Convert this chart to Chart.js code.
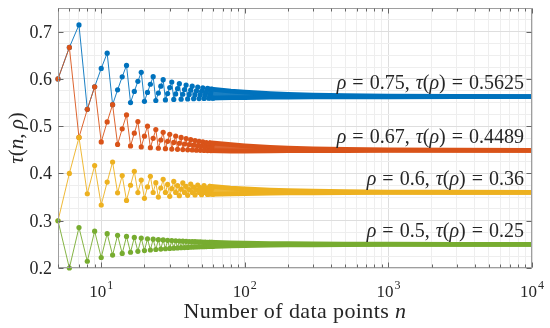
<!DOCTYPE html>
<html>
<head>
<meta charset="utf-8">
<script src="https://cdn.jsdelivr.net/npm/chart.js@4/dist/chart.umd.min.js"></script>
<style>
html, body { margin: 0; padding: 0; background: #fff; }
</style>
</head>
<body>
<canvas id="tauChart" width="550" height="328"></canvas>
<script>
// number of data points, one marker each
var nSmall = [5,6,7,8,9,10,11,12,13,14,15,16,17,18,19,20,21,22,23,24,25,26,
	27,28,29,30,31,32,33,34,35,36,37,38,39,40,41,42,43,44,45,46,47,48,
	49,50,51,52,53,54,55,56,57,58,59,60];

var tau075 = [0.6000,0.6667,0.7143,0.5357,0.5833,0.6222,0.6545,0.5455,0.5769,0.6044,0.6286,
	0.5500,0.5735,0.5948,0.6140,0.5526,0.5714,0.5887,0.6047,0.5543,0.5700,0.5846,0.5983,
	0.5556,0.5690,0.5816,0.5935,0.5565,0.5682,0.5793,0.5899,0.5571,0.5676,0.5775,0.5870,
	0.5577,0.5671,0.5761,0.5847,0.5581,0.5667,0.5749,0.5828,0.5585,
	0.5663,0.5739,0.5812,0.5588,0.5660,0.5730,0.5798,0.5591,0.5658,0.5723,0.5786,0.5593];
var tau067 = [0.6000,0.6667,0.4762,0.5357,0.5833,0.4667,0.5091,0.5455,0.4615,0.4945,0.5238,
	0.4583,0.4853,0.5098,0.4561,0.4789,0.5000,0.4545,0.4743,0.4928,0.4533,0.4708,0.4872,
	0.4524,0.4680,0.4828,0.4516,0.4657,0.4792,0.4510,0.4639,0.4762,0.4505,0.4623,0.4737,
	0.4500,0.4610,0.4715,0.4496,0.4598,0.4697,0.4493,0.4588,0.4681,
	0.4490,0.4580,0.4667,0.4487,0.4572,0.4654,0.4485,0.4565,0.4643,0.4483,0.4559,0.4633];
var tau060 = [0.3000,0.4000,0.4762,0.3571,0.4167,0.3333,0.3818,0.4242,0.3590,0.3956,0.3429,
	0.3750,0.4044,0.3595,0.3860,0.3474,0.3714,0.3939,0.3597,0.3804,0.3500,0.3692,0.3875,
	0.3598,0.3768,0.3517,0.3677,0.3831,0.3598,0.3743,0.3529,0.3667,0.3799,0.3599,0.3725,
	0.3538,0.3659,0.3775,0.3599,0.3710,0.3545,0.3652,0.3756,0.3599,
	0.3699,0.3551,0.3647,0.3741,0.3599,0.3690,0.3556,0.3643,0.3728,0.3600,0.3682,0.3559];
var tau050 = [0.3000,0.2000,0.2857,0.2143,0.2778,0.2222,0.2727,0.2273,0.2692,0.2308,0.2667,
	0.2333,0.2647,0.2353,0.2632,0.2368,0.2619,0.2381,0.2609,0.2391,0.2600,0.2400,0.2593,
	0.2407,0.2586,0.2414,0.2581,0.2419,0.2576,0.2424,0.2571,0.2429,0.2568,0.2432,0.2564,
	0.2436,0.2561,0.2439,0.2558,0.2442,0.2556,0.2444,0.2553,0.2447,
	0.2551,0.2449,0.2549,0.2451,0.2547,0.2453,0.2545,0.2455,0.2544,0.2456,0.2542,0.2458];

// further out the markers merge into a band: its upper and lower edge
var nTail = [56,80,100,150,200,300,500,1000,3000,10000];
var tail075Hi = [0.5790,0.5742,0.5719,0.5688,0.5672,0.5656,0.5644,0.5634,0.5628,0.5626];
var tail075Lo = [0.5592,0.5602,0.5606,0.5613,0.5616,0.5619,0.5621,0.5623,0.5624,0.5625];
var tail067Hi = [0.4650,0.4608,0.4584,0.4552,0.4537,0.4521,0.4508,0.4499,0.4492,0.4490];
var tail067Lo = [0.4484,0.4475,0.4474,0.4478,0.4482,0.4484,0.4486,0.4488,0.4489,0.4489];
var tail060Hi = [0.3732,0.3690,0.3672,0.3648,0.3636,0.3624,0.3614,0.3607,0.3602,0.3601];
var tail060Lo = [0.3557,0.3570,0.3576,0.3584,0.3588,0.3592,0.3595,0.3598,0.3599,0.3600];
var tail050Hi = [0.2545,0.2531,0.2525,0.2517,0.2513,0.2508,0.2505,0.2503,0.2501,0.2500];
var tail050Lo = [0.2455,0.2469,0.2475,0.2483,0.2488,0.2492,0.2495,0.2498,0.2499,0.2500];

var rhoLabels = ['0.75', '0.67', '0.6', '0.5'];
var tauLabels = ['0.5625', '0.4489', '0.36', '0.25'];
var tauLimits = [0.5625, 0.4489, 0.36, 0.25];
var yTickLabels = [0.2, 0.3, 0.4, 0.5, 0.6, 0.7];
var xTickLabels = [10, 100, 1000, 10000];

var colors = ['#0072BD', '#D95319', '#EDB120', '#77AC30'];
var fills = ['rgba(0,114,189,0.9)', 'rgba(217,83,25,0.9)', 'rgba(237,177,32,0.9)', 'rgba(119,172,48,0.9)'];
var serif = '"Liberation Serif", "Times New Roman", serif';
var textColor = '#262626';

function pts(xs, ys) {
	return xs.map(function (x, i) { return { x: x, y: ys[i] }; });
}

var series = [
	[tau075, tail075Hi, tail075Lo],
	[tau067, tail067Hi, tail067Lo],
	[tau060, tail060Hi, tail060Lo],
	[tau050, tail050Hi, tail050Lo]
];

var datasets = [];
series.forEach(function (s, i) {
	var ord = 4 - i;   // later series drawn on top
	datasets.push({
		data: pts(nSmall, s[0]),
		borderColor: colors[i],
		borderWidth: 0.9,
		pointRadius: 2.6,
		pointBorderWidth: 0,
		pointBackgroundColor: colors[i],
		fill: false,
		clip: false,
		order: ord
	});
	datasets.push({
		data: pts(nTail, s[1]),
		borderColor: colors[i],
		borderWidth: 4.8,
		pointRadius: 0,
		fill: false,
		clip: false,
		order: ord
	});
	datasets.push({
		data: pts(nTail, s[2]),
		borderColor: colors[i],
		backgroundColor: fills[i],
		borderWidth: 4.8,
		pointRadius: 0,
		fill: '-1',
		clip: false,
		order: ord
	});
});

function isDecade(v) {
	var l = Math.log10(v);
	return Math.abs(l - Math.round(l)) < 1e-9;
}
function isTenth(v) {
	return Math.abs(v * 10 - Math.round(v * 10)) < 1e-6;
}

// runs: [text, italic] or a number = gap in em
function runsWidth(ctx, runs, size) {
	var w = 0;
	runs.forEach(function (r) {
		if (typeof r === 'number') { w += r * size; return; }
		ctx.font = (r[1] ? 'italic ' : '') + size + 'px ' + serif;
		w += ctx.measureText(r[0]).width;
	});
	return w;
}
function drawRuns(ctx, runs, x, y, size) {
	runs.forEach(function (r) {
		if (typeof r === 'number') { x += r * size; return; }
		ctx.font = (r[1] ? 'italic ' : '') + size + 'px ' + serif;
		ctx.fillText(r[0], x, y);
		x += ctx.measureText(r[0]).width;
	});
}

var decor = {
	id: 'decor',
	afterDatasetsDraw: function (chart) {
		var ctx = chart.ctx, a = chart.chartArea;
		var xs = chart.scales.x, ys = chart.scales.y;
		ctx.save();
		ctx.strokeStyle = '#9e9e9e';
		ctx.lineWidth = 1;
		var L = Math.round(a.left) + 0.5, R = Math.round(a.right) - 0.5;
		var T = Math.round(a.top) + 0.5, B = Math.round(a.bottom) - 0.5;
		ctx.strokeRect(L, T, R - L, B - T);
		ctx.strokeStyle = '#666';
		ctx.beginPath();
		xs.ticks.forEach(function (t) {
			var px = Math.round(xs.getPixelForValue(t.value)) + 0.5;
			var len = isDecade(t.value) ? 5 : 3;
			ctx.moveTo(px, B); ctx.lineTo(px, B - len);
			ctx.moveTo(px, T); ctx.lineTo(px, T + len);
		});
		yTickLabels.forEach(function (v) {
			var py = Math.round(ys.getPixelForValue(v)) + 0.5;
			ctx.moveTo(L, py); ctx.lineTo(L + 5, py);
			ctx.moveTo(R, py); ctx.lineTo(R - 5, py);
		});
		ctx.stroke();
		ctx.restore();
	},
	afterDraw: function (chart) {
		var ctx = chart.ctx, a = chart.chartArea;
		var xs = chart.scales.x, ys = chart.scales.y;
		ctx.save();
		ctx.fillStyle = textColor;
		ctx.textBaseline = 'alphabetic';

		// y tick labels
		ctx.textAlign = 'right';
		ctx.font = '18px ' + serif;
		yTickLabels.forEach(function (v) {
			ctx.fillText(v.toFixed(1), a.left - 6, ys.getPixelForValue(v) + 6);
		});

		// x tick labels 10^k
		ctx.textAlign = 'left';
		xTickLabels.forEach(function (v) {
			var ex = String(Math.round(Math.log10(v)));
			ctx.font = '17px ' + serif;
			var wb = ctx.measureText('10').width;
			ctx.font = '12px ' + serif;
			var we = ctx.measureText(ex).width;
			var x0 = xs.getPixelForValue(v) - (wb + we + 1) / 2;
			ctx.font = '17px ' + serif;
			ctx.fillText('10', x0, 297);
			ctx.font = '12px ' + serif;
			ctx.fillText(ex, x0 + wb + 1, 289);
		});

		// x title
		var xt = [['Number of data points ', false], ['n', true]];
		ctx.letterSpacing = '0.4px';
		var w = runsWidth(ctx, xt, 22);
		drawRuns(ctx, xt, (a.left + a.right) / 2 - w / 2, 318, 22);
		ctx.letterSpacing = '0px';

		// y title
		var yt = [['τ', true], ['(', false], ['n', true], [',', false], 0.2, ['ρ', true], [')', false]];
		ctx.save();
		ctx.translate(23, (a.top + a.bottom) / 2);
		ctx.rotate(-Math.PI / 2);
		w = runsWidth(ctx, yt, 21);
		drawRuns(ctx, yt, -w / 2, 0, 21);
		ctx.restore();

		// curve labels
		rhoLabels.forEach(function (r, i) {
			var lab = [['ρ', true], 0.3, ['=', false], 0.3, [r + ',', false], 0.3,
				['τ', true], ['(', false], ['ρ', true], [')', false], 0.3, ['=', false], 0.3,
				[tauLabels[i], false]];
			var lw = runsWidth(ctx, lab, 20);
			drawRuns(ctx, lab, a.right - 8 - lw, ys.getPixelForValue(tauLimits[i]) - 7.5, 20);
		});
		ctx.restore();
	}
};

var ctx = document.getElementById('tauChart');
var tauChart = new Chart(ctx, {
	type: 'line',
	data: { datasets: datasets },
	options: {
		responsive: false,
		animation: false,
		devicePixelRatio: 1,
		layout: { padding: { left: 58, right: 18, top: 8, bottom: 60 } },
		plugins: { legend: { display: false }, tooltip: { enabled: false } },
		elements: { line: { tension: 0 } },
		scales: {
			x: {
				type: 'logarithmic',
				min: 5,
				max: 10000,
				afterBuildTicks: function (axis) {
					var t = [];
					for (var d = 1; d <= 10000; d *= 10) {
						for (var m = 1; m < 10; m++) {
							var v = m * d;
							if (v >= 5 && v <= 10000) t.push({ value: v });
						}
					}
					axis.ticks = t;
				},
				ticks: { display: false },
				border: { display: false },
				grid: {
					drawTicks: false,
					color: function (c) { return isDecade(c.tick.value) ? '#dedede' : '#eeeeee'; }
				}
			},
			y: {
				type: 'linear',
				min: 0.2,
				max: 0.75,
				afterBuildTicks: function (axis) {
					var t = [];
					for (var i = 0; i <= 22; i++) t.push({ value: Math.round((0.2 + 0.025 * i) * 1000) / 1000 });
					axis.ticks = t;
				},
				ticks: { display: false },
				border: { display: false },
				grid: {
					drawTicks: false,
					color: function (c) { return isTenth(c.tick.value) ? '#dedede' : '#eeeeee'; }
				}
			}
		}
	},
	plugins: [decor]
});
</script>
</body>
</html>
